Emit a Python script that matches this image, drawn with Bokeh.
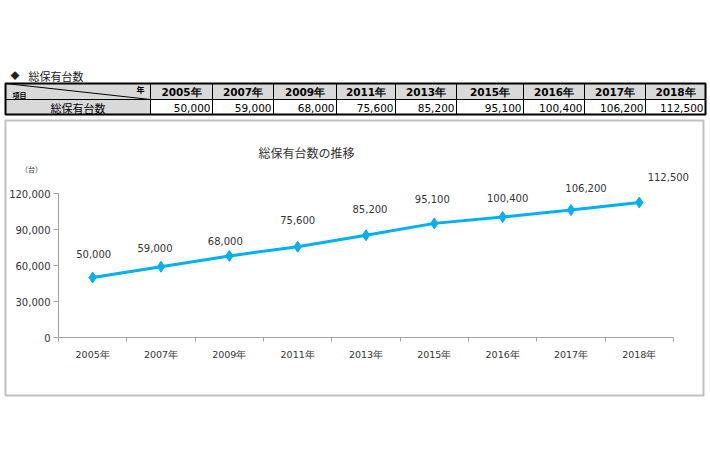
from bokeh.plotting import figure
from bokeh.models import (ColumnDataSource, Range1d, LinearAxis, FixedTicker,
                          NumeralTickFormatter)
from bokeh.core.properties import value
from bokeh.embed import file_html
from bokeh.resources import INLINE

# ---------------- data ----------------
years = ["2005年", "2007年", "2009年", "2011年", "2013年", "2015年", "2016年", "2017年", "2018年"]
units = [50000, 59000, 68000, 75600, 85200, 95100, 100400, 106200, 112500]
y_ticks = [0, 30000, 60000, 90000, 120000]
table_title = "総保有台数"
row_label = "総保有台数"
corner_item = "項目"
corner_year = "年"
chart_title = "総保有台数の推移"
unit_label = "（台）"

# ---------------- layout / style (page pixels) ----------------
W, H = 710, 473
AX_X, CAT_W = 58.0, 68.33      # y-axis x position, category width
AX_Y, PX_PER = 337.0, 0.0012   # x-axis y position, pixels per unit
label_dx = [1, -6, -4, 0, 4, -2, 5, 15, 29]
label_dy = [-24, -19, -15, -27, -26, -24, -19, -22, -26]
col_edges = [5, 150, 212, 273, 336, 395, 456, 523, 584, 645, 705]
row_top, row_mid, row_bot = 83, 99, 114
LINE_COLOR = "#00B0F0"
JP = "Noto Sans CJK JP"
NUM = "DejaVu Sans"

n = len(years)
xr = Range1d((0 - AX_X) / CAT_W - 0.5, (W - AX_X) / CAT_W - 0.5)
yr = Range1d((AX_Y - H) / PX_PER, AX_Y / PX_PER)

p = figure(width=W, height=H, x_range=xr, y_range=yr, x_axis_type=None, y_axis_type=None,
           output_backend="svg", toolbar_location=None, min_border=0,
           outline_line_color=None, background_fill_color="white", border_fill_color="white")
p.extra_x_ranges = {"px": Range1d(0, W)}
p.extra_y_ranges = {"py": Range1d(H, 0)}
PX = dict(x_range_name="px", y_range_name="py")

# ---------------- table ----------------
p.text(x=[10], y=[75], text=["◆"], text_font=value(JP), text_font_size="9px",
       text_baseline="middle", text_color="#222222", **PX)
p.text(x=[28], y=[75], text=[table_title], text_font=value(JP), text_font_size="11px",
       text_baseline="middle", text_color="#222222", **PX)

lefts = col_edges[:-1]
rights = col_edges[1:]
# header row
p.quad(left=lefts, right=rights, top=[row_top] * len(lefts), bottom=[row_mid] * len(lefts),
       fill_color="#d9d9d9", line_color="black", line_width=1, **PX)
# data row
fills = ["#d9d9d9"] + ["white"] * n
p.quad(left=lefts, right=rights, top=[row_mid] * len(lefts), bottom=[row_bot] * len(lefts),
       fill_color=fills, line_color="black", line_width=1, **PX)
# outer border
p.quad(left=[col_edges[0]], right=[col_edges[-1]], top=[row_top], bottom=[row_bot],
       fill_color=None, line_color="black", line_width=2, **PX)
# corner diagonal
p.segment(x0=[col_edges[0]], y0=[row_top], x1=[col_edges[1]], y1=[row_mid],
          line_color="black", line_width=1, **PX)
p.text(x=[12], y=[94], text=[corner_item], text_font=value(JP), text_font_size="7px",
       text_font_style="bold", text_baseline="middle", text_color="black", **PX)
p.text(x=[144], y=[88.5], text=[corner_year], text_font=value(JP), text_font_size="8px",
       text_font_style="bold", text_baseline="middle", text_align="right", text_color="black", **PX)

centers = [(a + b) / 2 for a, b in zip(lefts[1:], rights[1:])]
p.text(x=centers, y=[(row_top + row_mid) / 2 + 0.5] * n, text=years, text_font=value(NUM),
       text_font_size="10.5px", text_font_style="bold", text_align="center",
       text_baseline="middle", text_color="black", **PX)
p.text(x=[(col_edges[0] + col_edges[1]) / 2], y=[(row_mid + row_bot) / 2 + 0.5], text=[row_label],
       text_font=value(JP), text_font_size="11px", text_align="center",
       text_baseline="middle", text_color="black", **PX)
p.text(x=[r - 2 for r in rights[1:]], y=[(row_mid + row_bot) / 2 + 0.5] * n,
       text=[f"{v:,}" for v in units], text_font=value(NUM), text_font_size="10.5px",
       text_align="right", text_baseline="middle", text_color="black", **PX)

# ---------------- chart frame & titles ----------------
p.quad(left=[5], right=[703], top=[120], bottom=[395], fill_color=None,
       line_color="#c0c0c0", line_width=2, **PX)
p.text(x=[306], y=[152], text=[chart_title], text_font=value(JP), text_font_size="12px",
       text_align="center", text_baseline="middle", text_color="#333333", **PX)
p.text(x=[31], y=[168], text=[unit_label], text_font=value(JP), text_font_size="7px",
       text_align="center", text_baseline="middle", text_color="#333333", **PX)

# ---------------- axes ----------------
yaxis = LinearAxis(fixed_location=-0.5, bounds=(0, y_ticks[-1]),
                   ticker=FixedTicker(ticks=y_ticks),
                   formatter=NumeralTickFormatter(format="0,0"))
yaxis.axis_line_color = "#a0a0a0"
yaxis.major_tick_line_color = "#a0a0a0"
yaxis.major_tick_out = 5
yaxis.major_tick_in = 0
yaxis.minor_tick_line_color = None
yaxis.major_label_standoff = 3
yaxis.major_label_text_font = NUM
yaxis.major_label_text_font_size = "10px"
yaxis.major_label_text_color = "#333333"
p.add_layout(yaxis, "left")

xaxis = LinearAxis(fixed_location=0, bounds=(-0.5, n - 0.5),
                   ticker=FixedTicker(ticks=[i - 0.5 for i in range(n + 1)]))
xaxis.axis_line_color = "#a0a0a0"
xaxis.major_tick_line_color = "#a0a0a0"
xaxis.major_tick_out = 4
xaxis.major_tick_in = 0
xaxis.minor_tick_line_color = None
xaxis.major_label_text_alpha = 0
p.add_layout(xaxis, "below")

xlab = LinearAxis(fixed_location=0, ticker=FixedTicker(ticks=list(range(n))),
                  major_label_overrides={i: years[i] for i in range(n)})
xlab.axis_line_color = None
xlab.major_tick_line_color = None
xlab.minor_tick_line_color = None
xlab.major_tick_out = 0
xlab.major_label_standoff = 11
xlab.major_label_text_font = NUM
xlab.major_label_text_font_size = "9.5px"
xlab.major_label_text_color = "#333333"
p.add_layout(xlab, "below")

# ---------------- series ----------------
src = ColumnDataSource(dict(x=list(range(n)), y=units, lab=[f"{v:,}" for v in units],
                            dx=label_dx, dy=label_dy))
p.line("x", "y", source=src, line_color=LINE_COLOR, line_width=3)
p.scatter("x", "y", source=src, marker="diamond", size=11, fill_color=LINE_COLOR,
          line_color=LINE_COLOR)
p.text("x", "y", text="lab", source=src, x_offset="dx", y_offset="dy",
       text_font=value(NUM), text_font_size="10px", text_align="center",
       text_baseline="middle", text_color="#333333")

open("out.html", "w").write(file_html(p, INLINE))
